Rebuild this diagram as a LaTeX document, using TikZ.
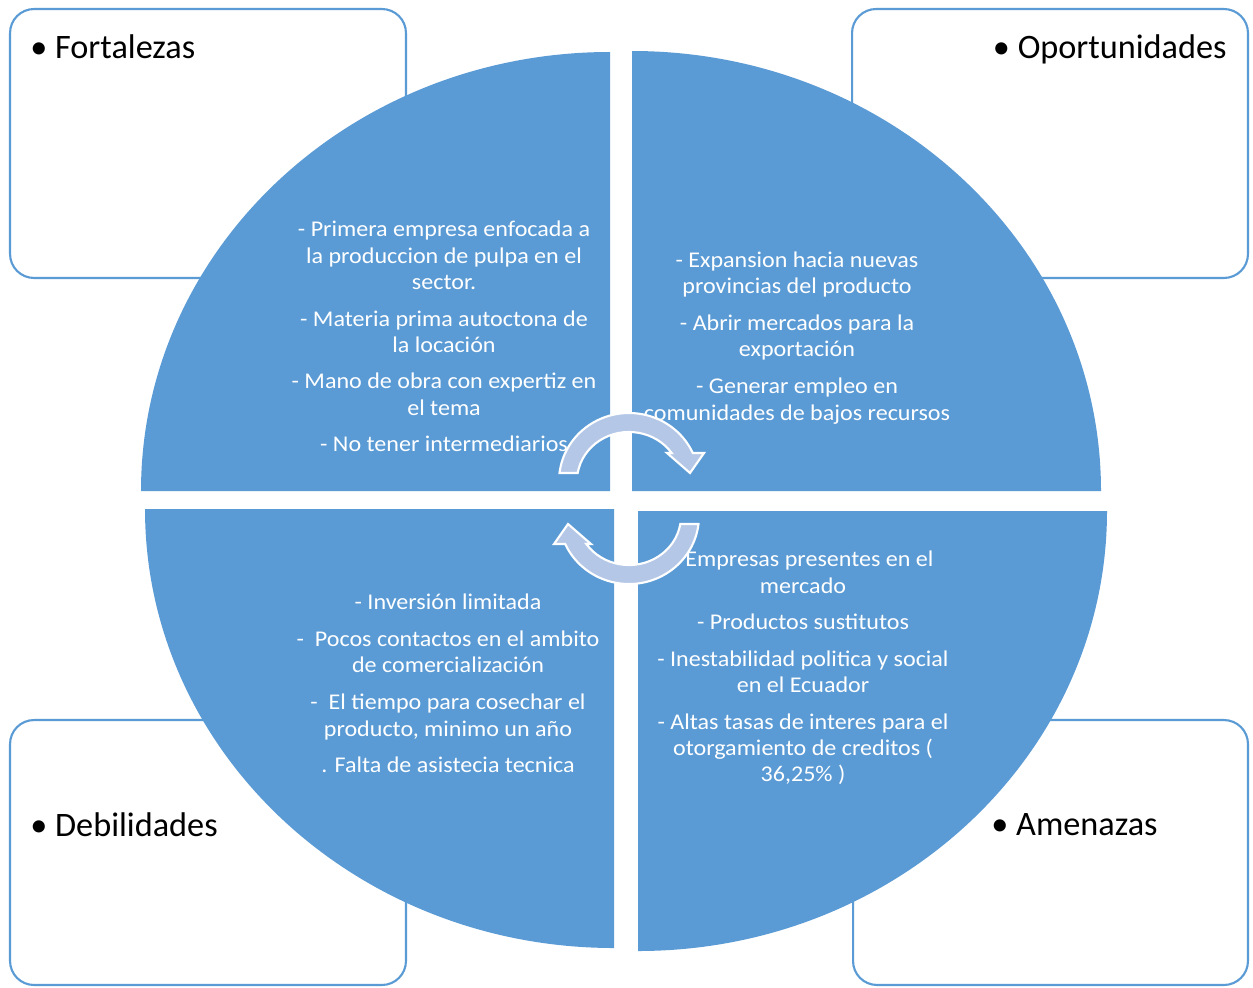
\documentclass[tikz,border=0pt]{standalone}
\usepackage{fontspec}
\usepackage{graphicx}
\setmainfont{Carlito}
\usetikzlibrary{positioning, calc}

\definecolor{pieblue}{RGB}{91,155,213}
\definecolor{arrowblue}{RGB}{180,199,231}

% text of the quarters is a little wider than high in the reference
\newcommand{\widetext}[1]{\scalebox{1.07}[1]{\begin{tabular}{@{}c@{}}#1\end{tabular}}}

\begin{document}
\begin{tikzpicture}[
    x=0.02cm, y=0.02cm,     % 1 unit = 1 pixel of the reference
    swotbox/.style={draw=pieblue, line width=1.2pt, fill=white,
        rounded corners=0.48cm, inner sep=0pt,
        minimum width=7.92cm, minimum height=5.38cm},
    swottitle/.style={inner sep=0pt, font=\fontsize{19.5}{23}\selectfont},
    quad/.style={fill=pieblue},
    quadtext/.style={text=white, inner sep=0pt,
        font=\fontsize{12.8}{15}\selectfont},
    cyclearrow/.style={fill=arrowblue, draw=white, line width=1.2pt}
]

    \useasboundingbox [fill=white] (0,0) rectangle (1253,-987);

    % --- 1. Corner boxes ---
    \node [swotbox] (fortbox) at (208,-143.5) {};
    \node [swotbox] (oporbox) at (1050,-143.5) {};
    \node [swotbox, minimum height=5.30cm] (debbox) at (208,-852.5) {};
    \node [swotbox, minimum height=5.30cm, minimum width=7.90cm] (amenbox) at (1050.5,-852.5) {};

    \node [swottitle, anchor=base west] (forttitle) at (30,-58) {\textbullet\ Fortalezas};
    \node [swottitle, anchor=base east] (oportitle) at (1227,-58) {\textbullet\ Oportunidades};
    \node [swottitle, anchor=base west] (debtitle) at (30,-836) {\textbullet\ Debilidades};
    \node [swottitle, anchor=base west] (amentitle) at (991,-835) {\textbullet\ Amenazas};

    % --- 2. Four quarters of the pie ---
    \fill [quad] (610,-491) -- ++(-469,0)
        arc [start angle=180, end angle=90, x radius=469, y radius=439] -- cycle;
    \fill [quad] (632,-491) -- ++(469,0)
        arc [start angle=0, end angle=90, x radius=469, y radius=440] -- cycle;
    \fill [quad] (614,-509) -- ++(-469,0)
        arc [start angle=180, end angle=270, x radius=469, y radius=439] -- cycle;
    \fill [quad] (638,-511) -- ++(469,0)
        arc [start angle=0, end angle=-90, x radius=469, y radius=440] -- cycle;

    % --- 3. Texts in the quarters ---
    \node [quadtext] (forttext) at (444,-339) {\widetext{%
        - Primera empresa enfocada a\\ la produccion de pulpa en el\\ sector.\\[5.8pt]
        - Materia prima autoctona de\\ la locación\\[5.8pt]
        - Mano de obra con expertiz en\\ el tema\\[5.8pt]
        - No tener intermediarios}};
    \node [quadtext] (oportext) at (797,-338.5) {\widetext{%
        - Expansion hacia nuevas\\ provincias del producto\\[6pt]
        - Abrir mercados para la\\ exportación\\[6pt]
        - Generar empleo en\\ comunidades de bajos recursos}};
    \node [quadtext] (debtext) at (448,-686) {\widetext{%
        - Inversión limitada\\[6pt]
        -~ Pocos contactos en el ambito\\ de comercialización\\[6pt]
        -~ El tiempo para cosechar el\\ producto, minimo un año\\[6pt]
        . Falta de asistecia tecnica}};
    \node [quadtext] (amentext) at (803,-669) {\widetext{%
        - Empresas presentes en el\\ mercado\\[5.8pt]
        - Productos sustitutos\\[5.8pt]
        - Inestabilidad politica y social\\ en el Ecuador\\[5.8pt]
        - Altas tasas de interes para el\\ otorgamiento de creditos (\\ 36,25\% )}};

    % --- 4. Circular arrows in the middle ---
    % the lower arrow is the upper one turned half round the centre of the cross
    \foreach \turn in {0,180} {
        \begin{scope}[rotate around={\turn:(629,-498.5)}]
            \draw [cyclearrow] (559.5,-473)
                arc [start angle=173.25, end angle=24.3, x radius=70, y radius=68]
                -- (704,-453) -- (690,-473) -- (667,-453) -- (671.7,-453)
                arc [start angle=34.8, end angle=170.6, x radius=52, y radius=49] -- cycle;
        \end{scope}
    }

\end{tikzpicture}
\end{document}
